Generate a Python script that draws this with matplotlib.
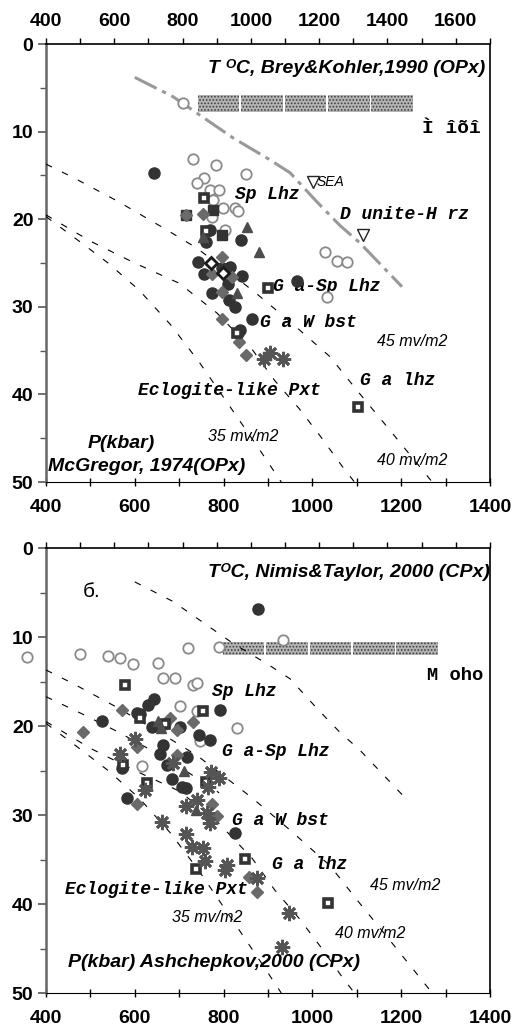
import matplotlib.pyplot as plt
from matplotlib.ticker import MultipleLocator

plt.rcParams['font.family'] = ['Liberation Sans', 'DejaVu Sans']
plt.rcParams['hatch.linewidth'] = 0.8

# ---------------- upper panel: OPx, T (C) vs P (kbar) ----------------
opx_open_T = [709, 731, 783, 850, 756, 740, 769, 790, 777, 799, 826, 832, 774, 803, 1028, 1055, 1078, 1033]
opx_open_P = [6.7, 13.1, 13.8, 14.8, 15.3, 15.9, 16.7, 16.7, 17.8, 18.7, 18.7, 19.1, 19.7, 21.2, 23.7, 24.8, 24.9, 28.9]
opx_dark_T = [643, 769, 760, 839, 742, 756, 814, 841, 797, 810, 774, 812, 826, 864, 837, 965, 832]
opx_dark_P = [14.7, 21.2, 22.6, 22.4, 24.9, 26.2, 25.5, 26.5, 25.6, 27.4, 28.4, 29.2, 30.0, 31.4, 32.6, 27.1, 33.0]
opx_diam_T = [715, 754, 797, 774, 797, 797, 835, 851, 818]
opx_diam_P = [19.5, 19.4, 24.3, 26.3, 28.3, 31.4, 34.0, 35.5, 26.6]
opx_sqo_T = [756, 760, 900, 830, 1103]
opx_sqo_P = [17.6, 21.3, 27.9, 33.0, 41.4]
opx_sqf_T = [715, 776, 796]
opx_sqf_P = [19.5, 18.9, 21.8]
opx_tri_T = [852, 880, 830, 753]
opx_tri_P = [20.9, 23.7, 28.4, 22.0]
opx_odiam_T = [772, 799]
opx_odiam_P = [25.0, 26.1]
opx_star_T = [891, 905, 934]
opx_star_P = [36.0, 35.3, 35.9]
opx_dunite_T = [1001, 1114]
opx_dunite_P = [15.8, 21.8]
opx_moho = (742, 1231, 5.8, 7.8)

# ---------------- lower panel: CPx ----------------
cpx_open_T = [357, 477, 540, 567, 596, 652, 720, 790, 934, 664, 691, 731, 740, 702, 740, 830, 747, 616, 668]
cpx_open_P = [12.2, 11.9, 12.1, 12.4, 13.0, 12.9, 11.2, 11.1, 10.3, 14.6, 14.6, 15.4, 15.2, 17.8, 18.3, 20.2, 21.7, 24.5, 19.8]
cpx_dark_T = [877, 526, 643, 630, 612, 638, 664, 657, 672, 718, 684, 706, 715, 745, 769, 792, 583, 572, 826, 702, 605]
cpx_dark_P = [6.9, 19.4, 17.0, 17.6, 18.6, 20.1, 22.1, 23.1, 24.4, 23.5, 26.0, 26.8, 27.0, 21.0, 21.6, 18.2, 28.1, 24.7, 32.0, 20.1, 18.5]
cpx_diam_T = [484, 571, 605, 695, 680, 695, 731, 605, 774, 786, 857, 875]
cpx_diam_P = [20.7, 18.2, 22.4, 23.3, 19.1, 20.4, 19.5, 28.8, 28.8, 30.1, 37.0, 38.6]
cpx_sqo_T = [578, 612, 754, 668, 574, 627, 761, 738, 848, 1035]
cpx_sqo_P = [15.4, 19.1, 18.3, 19.8, 24.4, 26.4, 26.3, 36.1, 34.9, 39.9]
cpx_tri_T = [653, 659, 711, 738]
cpx_tri_P = [19.4, 20.2, 25.1, 29.4]
cpx_star_T = [600, 567, 623, 686, 772, 790, 765, 740, 715, 762, 770, 661, 715, 729, 754, 758, 808, 803, 875, 947, 931]
cpx_star_P = [21.5, 23.1, 27.2, 24.2, 25.2, 25.8, 26.8, 28.3, 29.0, 29.8, 30.9, 30.8, 32.1, 33.6, 33.7, 35.2, 35.6, 36.2, 37.1, 41.0, 44.8]
cpx_moho = (798, 1287, 10.6, 12.0)

# ---------------- reference lines ----------------
geo45_T = [400, 460, 560, 665, 740, 865, 950, 1040, 1100, 1175, 1270]
geo45_P = [13.7, 15.2, 17.9, 21.0, 23.3, 28.1, 31.7, 35.7, 39.5, 44.1, 50.0]
geo40_T = [400, 500, 600, 700, 785, 865, 915, 970, 1020, 1070, 1095]
geo40_P = [19.5, 22.5, 25.0, 27.3, 30.7, 34.9, 38.4, 41.6, 44.9, 48.4, 50.0]
geo35_T = [400, 480, 540, 610, 680, 745, 820, 885, 930]
geo35_P = [19.7, 22.7, 25.0, 28.1, 32.0, 36.3, 41.8, 46.6, 50.0]
geo_extra_T = [400, 480, 560, 640, 720, 790]
geo_extra_P = [16.7, 18.6, 20.6, 22.8, 25.2, 27.5]
adiabat_T = [600, 686, 821, 904, 950, 1010, 1062, 1107, 1202]
adiabat_P = [3.8, 6.0, 10.7, 13.2, 14.7, 18.0, 20.7, 22.7, 27.7]

DARK = '#333333'
GREY = '#6a6a6a'
MONO = dict(family='Liberation Mono', style='italic', fontweight='bold', fontsize=13)


def setup(ax, top_labels):
    ax.set_xlim(400, 1400)
    ax.set_ylim(50, 0)
    ax.xaxis.set_major_locator(MultipleLocator(200))
    ax.xaxis.set_minor_locator(MultipleLocator(100))
    ax.yaxis.set_major_locator(MultipleLocator(10))
    ax.yaxis.set_minor_locator(MultipleLocator(5))
    ax.tick_params(axis='x', which='both', direction='inout', length=6, width=1, pad=9,
                   labelsize=14)
    ax.tick_params(axis='y', which='major', direction='out', length=6, width=1.2,
                   pad=3, labelsize=14, color='#555')
    ax.tick_params(axis='y', which='minor', direction='out', length=4, width=1, color='#555')
    for lab in ax.get_xticklabels() + ax.get_yticklabels():
        lab.set_fontweight('bold')
    ax.spines['left'].set_color('#666')
    ax.spines['left'].set_linewidth(1.8)
    ax.spines['right'].set_linewidth(1.2)
    ax.spines['top'].set_visible(False)
    top = ax.twiny()
    top.set_xlim(400, 1700)
    top.xaxis.set_major_locator(MultipleLocator(200 if top_labels else 100))
    top.xaxis.set_minor_locator(MultipleLocator(100))
    top.tick_params(axis='x', which='both', direction='out', length=4, width=1,
                    pad=6, labelsize=14, labeltop=top_labels)
    for lab in top.get_xticklabels():
        lab.set_fontweight('bold')
    for side in ['left', 'right', 'bottom']:
        top.spines[side].set_visible(False)
    top.spines['top'].set_linewidth(1.2)


def moho(ax, m):
    t0, t1, p0, p1 = m
    step = (t1 - t0) / 5.0
    segs = [(t0 + i * step, step - 4) for i in range(5)]
    ax.broken_barh(segs, (p0, p1 - p0), facecolor='#b4b4b4', edgecolor='#404040',
                   hatch='.....', linewidth=0, zorder=2)


def points(ax, T, P, kind, **kw):
    styles = {
        'open': dict(marker='o', ms=7.5, mfc='white', mec='#8a8a8a', mew=1.3),
        'dark': dict(marker='o', ms=8, mfc=DARK, mec=DARK),
        'diam': dict(marker='D', ms=6.5, mfc=GREY, mec=GREY),
        'sqo': dict(marker='s', ms=5.5, mfc='white', mec=DARK, mew=2.6),
        'sqf': dict(marker='s', ms=7.5, mfc=DARK, mec=DARK),
        'tri': dict(marker='^', ms=7, mfc='#4d4d4d', mec='#4d4d4d'),
        'odiam': dict(marker='D', ms=6, mfc='white', mec='#1a1a1a', mew=2),
        'star': dict(marker=(8, 2, 0), ms=11, mec='#555555', mew=2),
        'dun': dict(marker='v', ms=9, mfc='white', mec='#222', mew=1),
    }
    ax.plot(T, P, ls='none', zorder=4, **styles[kind], **kw)


fig = plt.figure(figsize=(5.15, 10.3), dpi=100)
ax1 = fig.add_axes([0.0893, 0.532, 0.862, 0.4252])
ax2 = fig.add_axes([0.0893, 0.0359, 0.862, 0.4320])

# ---- upper panel
dash = (0, (6, 10))
for T, P in [(geo45_T, geo45_P), (geo40_T, geo40_P), (geo35_T, geo35_P)]:
    ax1.plot(T, P, color='black', lw=0.8, ls=dash, zorder=3)
ax1.plot(adiabat_T, adiabat_P, color='#999999', lw=2.2, ls=(0, (8, 2, 1.4, 2)), zorder=3)
moho(ax1, opx_moho)
points(ax1, opx_open_T, opx_open_P, 'open')
points(ax1, opx_sqf_T, opx_sqf_P, 'sqf')
points(ax1, opx_dark_T, opx_dark_P, 'dark')
points(ax1, opx_diam_T, opx_diam_P, 'diam')
points(ax1, opx_sqo_T, opx_sqo_P, 'sqo')
points(ax1, opx_tri_T, opx_tri_P, 'tri')
points(ax1, opx_odiam_T, opx_odiam_P, 'odiam')
points(ax1, opx_star_T, opx_star_P, 'star')
points(ax1, opx_dunite_T, opx_dunite_P, 'dun')

ax1.text(1389, 2.7, 'T ᴼC, Brey&Kohler,1990 (OPx)', ha='right', va='center',
         fontsize=14, fontweight='bold', style='italic')
ax1.text(1380, 9.6, 'Ì îõî', ha='right', va='center', family='Liberation Mono',
         fontweight='bold', fontsize=14)
ax1.text(826, 17.2, 'Sp Lhz', va='center', **MONO)
ax1.text(1010, 15.8, 'SEA', va='center', fontsize=10, style='italic')
ax1.text(1062, 19.5, 'D unite-H rz', va='center', **MONO)
ax1.text(911, 27.7, 'G a-Sp Lhz', va='center', **MONO)
ax1.text(882, 31.8, 'G a W bst', va='center', **MONO)
ax1.text(1145, 34.0, '45 mv/m2', va='center', fontsize=11.5, style='italic')
ax1.text(1107, 38.4, 'G a lhz', va='center', **MONO)
ax1.text(607, 39.5, 'Eclogite-like Pxt', va='center', **MONO)
ax1.text(765, 44.8, '35 mv/m2', va='center', fontsize=11.5, style='italic')
ax1.text(1145, 47.5, '40 mv/m2', va='center', fontsize=11.5, style='italic')
ax1.text(570, 45.6, 'P(kbar)', ha='center', va='center', fontsize=14,
         fontweight='bold', style='italic')
ax1.text(405, 48.2, 'McGregor, 1974(OPx)', va='center', fontsize=14,
         fontweight='bold', style='italic')
setup(ax1, True)

# ---- lower panel
for T, P in [(geo45_T, geo45_P), (geo_extra_T, geo_extra_P), (geo40_T, geo40_P),
             (geo35_T, geo35_P), (adiabat_T, adiabat_P)]:
    ax2.plot(T, P, color='black', lw=0.8, ls=dash, zorder=3)
moho(ax2, cpx_moho)
points(ax2, cpx_open_T, cpx_open_P, 'open', clip_on=False)
points(ax2, cpx_dark_T, cpx_dark_P, 'dark')
points(ax2, cpx_diam_T, cpx_diam_P, 'diam')
points(ax2, cpx_sqo_T, cpx_sqo_P, 'sqo')
points(ax2, cpx_tri_T, cpx_tri_P, 'tri')
points(ax2, cpx_star_T, cpx_star_P, 'star')

ax2.text(1400, 2.7, 'TᴼC, Nimis&Taylor, 2000 (CPx)', ha='right', va='center',
         fontsize=14, fontweight='bold', style='italic')
ax2.text(483, 4.9, 'б.', va='center', fontsize=15)
ax2.text(1385, 14.3, 'M oho', ha='right', va='center', family='Liberation Mono',
         fontweight='bold', fontsize=13.5)
ax2.text(774, 16.1, 'Sp Lhz', va='center', **MONO)
ax2.text(797, 22.9, 'G a-Sp Lhz', va='center', **MONO)
ax2.text(819, 30.6, 'G a W bst', va='center', **MONO)
ax2.text(909, 35.6, 'G a lhz', va='center', **MONO)
ax2.text(1130, 37.9, '45 mv/m2', va='center', fontsize=11.5, style='italic')
ax2.text(1051, 43.3, '40 mv/m2', va='center', fontsize=11.5, style='italic')
ax2.text(443, 38.4, 'Eclogite-like Pxt', va='center', **MONO)
ax2.text(684, 41.5, '35 mv/m2', va='center', fontsize=11.5, style='italic')
ax2.text(450, 46.6, 'P(kbar) Ashchepkov,2000 (CPx)', va='center', fontsize=14,
         fontweight='bold', style='italic')
setup(ax2, False)

fig.savefig('out.png', dpi=100)
